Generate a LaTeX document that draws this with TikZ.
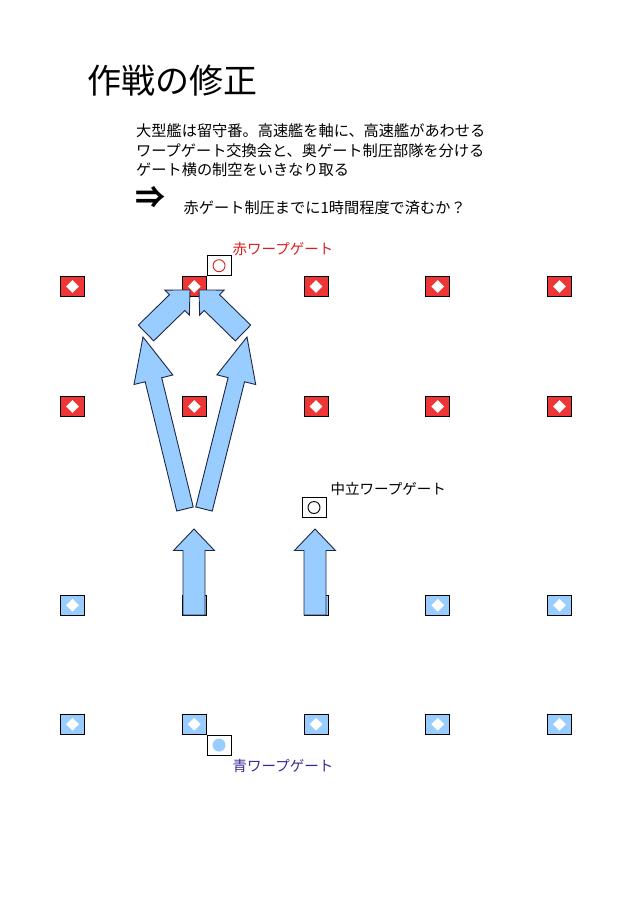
\documentclass[tikz,border=0pt]{standalone}
\usepackage{fontspec}
\setmainfont{Noto Sans CJK JP}
\usetikzlibrary{positioning,calc,shapes.geometric}

\definecolor{tilered}{RGB}{238,54,54}
\definecolor{tileblue}{RGB}{153,204,255}
\definecolor{flowedge}{RGB}{30,40,70}
\definecolor{labelred}{RGB}{220,30,30}
\definecolor{labelblue}{RGB}{60,40,150}

% block arrow: tail, tip, shaft half width, head half width, head length
\newcommand{\blockarrow}[5]{%
  \coordinate (hb) at ($(#2)!#5!(#1)$);
  \draw[flow] ($(#1)!#3!90:(#2)$) -- ($(hb)!#3!90:(#2)$) -- ($(hb)!#4!90:(#2)$) -- (#2)
    -- ($(hb)!#4!-90:(#2)$) -- ($(hb)!#3!-90:(#2)$) -- ($(#1)!#3!-90:(#2)$) -- cycle;
}

\begin{document}
\begin{tikzpicture}[x=1pt,y=-1pt,
  tile/.style={draw=black, line width=0.8pt, minimum width=24pt, minimum height=20pt, inner sep=0pt},
  gem/.style={diamond, fill=white, minimum size=13pt, inner sep=0pt},
  gatebox/.style={draw=black, fill=white, line width=0.8pt, minimum width=24pt, minimum height=20pt, inner sep=0pt},
  flow/.style={fill=tileblue, draw=flowedge, line width=0.9pt, line join=miter},
  body/.style={inner sep=0pt, font=\fontsize{15.2}{19}\selectfont},
  lbl/.style={inner sep=0pt, font=\fontsize{14.5}{17}\selectfont}]
\useasboundingbox (0,0) rectangle (638,903);

% heading and notes
\node[inner sep=0pt, anchor=base west, font=\fontsize{34}{40}\selectfont] (title) at (87,93) {作戦の修正};
\foreach \txt [count=\i] in {大型艦は留守番。高速艦を軸に、高速艦があわせる,
    ワープゲート交換会と、奥ゲート制圧部隊を分ける, ゲート横の制空をいきなり取る}
  \node[body, anchor=base west] (line\i) at (136,117+19.6*\i) {\txt};
\node[inner sep=0pt, anchor=west, font=\fontsize{30}{32}\selectfont\bfseries] (implies) at (135,197.5) {⇒};
\node[body, anchor=base west] (goal) at (183.5,213) {赤ゲート制圧までに1時間程度で済むか？};

% the 5x4 field of tiles
\foreach \c in {0,...,4} {
  \foreach \row/\yy/\tint in {1/286.5/tilered, 2/406.5/tilered, 3/605.3/tileblue, 4/724.3/tileblue} {
    \node[tile, fill=\tint] (t\row\c) at (72.5+121.75*\c,\yy) {};
    \node[gem] at (t\row\c) {};
  }
}

% warp gates
\node[gatebox, anchor=south west] (redgate) at (t11.north east) {};
\node[circle, draw=labelred, line width=0.9pt, minimum size=12pt, inner sep=0pt] at (redgate) {};
\node[gatebox, anchor=north west] (bluegate) at (t41.south east) {};
\node[circle, fill=tileblue, minimum size=13pt, inner sep=0pt] at (bluegate) {};
\node[gatebox] (midgate) at (314,507.5) {};
\node[circle, draw=black, line width=0.9pt, minimum size=12pt, inner sep=0pt] at (midgate) {};

\node[lbl, anchor=base west, text=labelred] (redlbl) at (232.5,254.5) {赤ワープゲート};
\node[lbl, anchor=base west] (midlbl) at (330.5,494.5) {中立ワープゲート};
\node[lbl, anchor=base west, text=labelblue] (bluelbl) at (232.5,771) {青ワープゲート};

% movement arrows
\coordinate (upA) at (194,615);   \coordinate (upAtip) at (194,529);
\coordinate (upB) at (315,615);   \coordinate (upBtip) at (315,529);
\coordinate (bigL) at (185,509);  \coordinate (bigLtip) at (143,337);
\coordinate (bigR) at (204,509);  \coordinate (bigRtip) at (247,337);
\coordinate (smL) at (146,333);   \coordinate (smLtip) at (190,290);
\coordinate (smR) at (243,333);   \coordinate (smRtip) at (199,290);

\blockarrow{upA}{upAtip}{11pt}{20.5pt}{21.5pt}
\blockarrow{upB}{upBtip}{11pt}{20.5pt}{21.5pt}
\blockarrow{bigL}{bigLtip}{8.5pt}{20pt}{44pt}
\blockarrow{bigR}{bigRtip}{8.5pt}{20pt}{44pt}
\blockarrow{smL}{smLtip}{11pt}{17.5pt}{18pt}
\blockarrow{smR}{smRtip}{11pt}{17.5pt}{18pt}
\end{tikzpicture}
\end{document}
